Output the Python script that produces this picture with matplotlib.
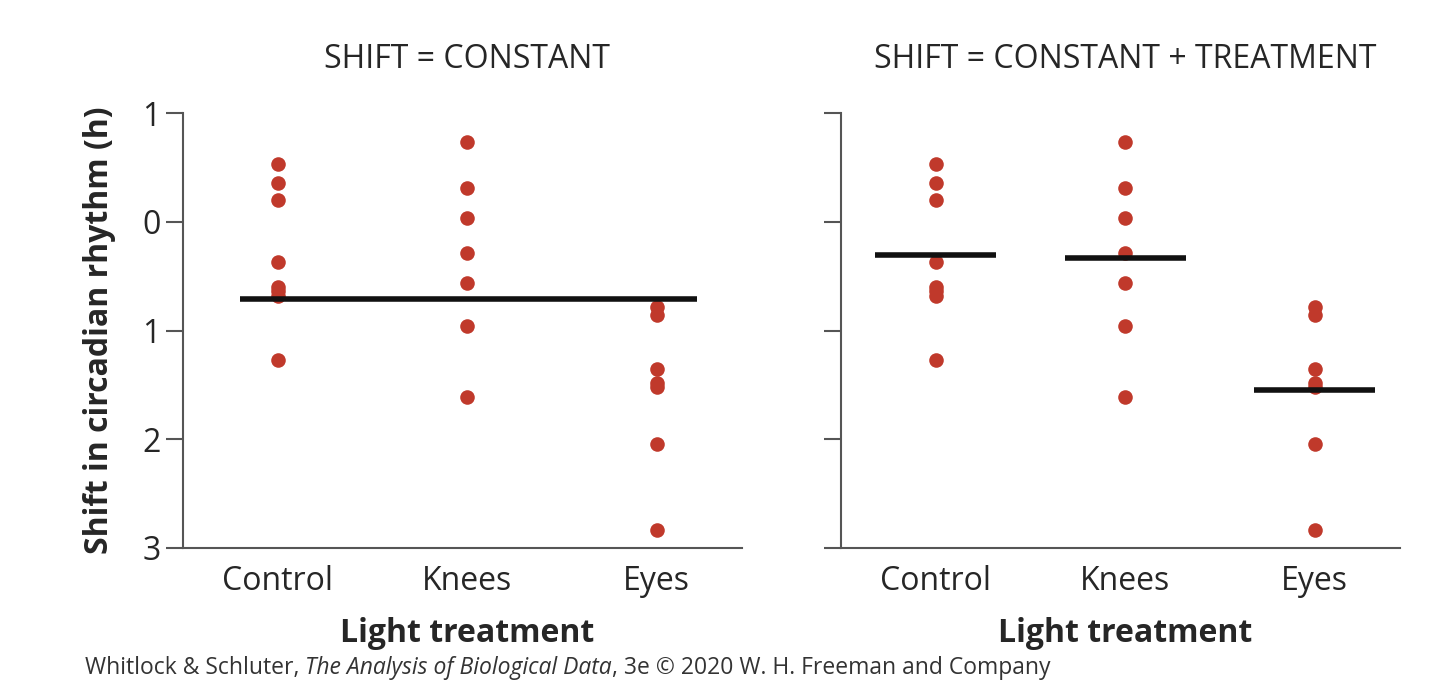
import numpy as np
import matplotlib
matplotlib.use("Agg")
import matplotlib.pyplot as plt
from matplotlib.transforms import blended_transform_factory

# shift in circadian rhythm (h) per light treatment
groups = ["Control", "Knees", "Eyes"]
control = [0.53, 0.36, 0.20, -0.37, -0.60, -0.64, -0.68, -1.27]
knees = [0.73, 0.31, 0.03, -0.29, -0.56, -0.96, -1.61]
eyes = [-0.78, -0.86, -1.35, -1.48, -1.52, -2.04, -2.83]
yticks = [1, 0, -1, -2, -3]
ytick_labels = ["1", "0", "1", "2", "3"]
titles = ["SHIFT = CONSTANT", "SHIFT = CONSTANT + TREATMENT"]

plt.rcParams['font.family'] = ['Open Sans', 'DejaVu Sans']
dot_color = '#C0392B'
text_color = '#262626'
spine_color = '#555555'

data = [control, knees, eyes]
grand_mean = np.mean(np.concatenate(data))
group_means = [np.mean(d) for d in data]

fig = plt.figure(figsize=(14.4, 6.82), dpi=100)
ax1 = fig.add_axes([183/1440, 1-548/682, 559/1440, 435/682])
ax2 = fig.add_axes([841/1440, 1-548/682, 559/1440, 435/682])

for i, ax in enumerate([ax1, ax2]):
    for j, vals in enumerate(data):
        ax.scatter([j]*len(vals), vals, s=110, color=dot_color, zorder=3, linewidths=0)
    if i == 0:
        ax.plot([-0.2, 2.21], [grand_mean, grand_mean], color='#111111', lw=4, solid_capstyle='butt', zorder=4)
    else:
        for j, m in enumerate(group_means):
            ax.plot([j-0.32, j+0.32], [m, m], color='#111111', lw=4, solid_capstyle='butt', zorder=4)
    ax.set_xlim(-0.5, 2.45)
    ax.set_ylim(-3, 1)
    ax.set_xticks(range(3))
    ax.set_xticklabels(groups, fontsize=23, color=text_color)
    ax.tick_params(axis='x', length=0, pad=12)
    ax.set_yticks(yticks)
    if i == 0:
        ax.set_yticklabels(ytick_labels, fontsize=23, color=text_color)
    else:
        ax.set_yticklabels([])
    ax.tick_params(axis='y', length=12, width=1.5, color=spine_color, pad=4)
    for s in ['top', 'right']:
        ax.spines[s].set_visible(False)
    for s in ['left', 'bottom']:
        ax.spines[s].set_color(spine_color)
        ax.spines[s].set_linewidth(1.5)
    tr = blended_transform_factory(ax.transData, fig.transFigure)
    ax.text(1, 1-60/682, titles[i], transform=tr, ha='center', va='center',
            fontsize=23, color=text_color)
    ax.text(1, 1-634/682, "Light treatment", transform=tr, ha='center', va='center',
            fontsize=23, fontweight='bold', color=text_color)

fig.text(100/1440, 1-330/682, "Shift in circadian rhythm (h)", rotation=90,
         ha='center', va='center', fontsize=23, fontweight='bold', color=text_color)

# source line with italic book title
renderer = fig.canvas.get_renderer()
x = 85/1440
y = 1-674/682
for part, style in [("Whitlock & Schluter, ", 'normal'),
                    ("The Analysis of Biological Data", 'italic'),
                    (", 3e \u00a9 2020 W. H. Freeman and Company", 'normal')]:
    t = fig.text(x, y, part, ha='left', va='baseline', fontsize=16.5,
                 style=style, color='#333333')
    bb = t.get_window_extent(renderer=renderer)
    x += bb.width / fig.bbox.width

fig.savefig("out.png", dpi=100)
